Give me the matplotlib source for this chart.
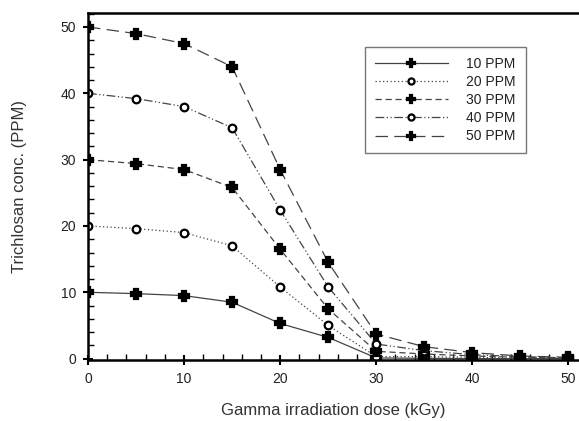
import matplotlib.pyplot as plt
from matplotlib.ticker import MultipleLocator

plt.rcParams["font.family"] = ["Liberation Sans", "DejaVu Sans"]

# ── Data ──────────────────────────────────
dose = [0, 5, 10, 15, 20, 25, 30, 35, 40, 45, 50]
ppm10 = [10, 9.8, 9.5, 8.5, 5.3, 3.2, 0.1, 0.05, 0.0, 0.0, 0.0]
ppm20 = [20, 19.6, 19.0, 17.0, 10.8, 5.0, 0.3, 0.3, 0.2, 0.1, 0.0]
ppm30 = [30, 29.4, 28.5, 25.8, 16.5, 7.5, 1.1, 0.7, 0.4, 0.2, 0.1]
ppm40 = [40, 39.2, 38.0, 34.8, 22.4, 10.8, 2.2, 1.2, 0.6, 0.3, 0.1]
ppm50 = [50, 49.0, 47.5, 44.0, 28.5, 14.5, 3.7, 1.8, 0.9, 0.4, 0.2]
labels = ["10 PPM", "20 PPM", "30 PPM", "40 PPM", "50 PPM"]

fig = plt.figure(figsize=(5.79, 4.21), dpi=100)
ax = fig.add_axes([0.152, 0.145, 0.848, 0.824])

# linestyle, marker, face colour
styles = [
    ("-", "P", "black"),
    ((0, (1, 2)), "o", "white"),
    ((0, (5, 3)), "P", "black"),
    ((0, (7, 2, 1, 2, 1, 2)), "o", "white"),
    ((0, (10, 5)), "P", "black"),
]
series = [ppm10, ppm20, ppm30, ppm40, ppm50]

for vals, lab, (ls, mk, fc) in zip(series, labels, styles):
    ms = 6.5 if mk == "P" else 5.5
    ax.plot(dose, vals, linestyle=ls, color="#444444", linewidth=0.9,
            marker=mk, markersize=ms, markerfacecolor=fc,
            markeredgecolor="black", markeredgewidth=1.6, label=lab)

ax.set_xlim(0, 51.1)
ax.set_ylim(-0.2, 52.1)
ax.xaxis.set_major_locator(MultipleLocator(10))
ax.xaxis.set_minor_locator(MultipleLocator(2))
ax.yaxis.set_major_locator(MultipleLocator(10))
ax.yaxis.set_minor_locator(MultipleLocator(2))
ax.tick_params(which="major", direction="inout", length=7, width=1.5,
               labelsize=10, labelcolor="#222222", pad=5)
ax.tick_params(which="minor", direction="in", length=4, width=1)

for side in ["left", "bottom", "top"]:
    ax.spines[side].set_linewidth(1.8)
ax.spines["right"].set_visible(False)

ax.set_xlabel("Gamma irradiation dose (kGy)", fontsize=12, color="#333333")
ax.set_ylabel("Trichlosan conc. (PPM)", fontsize=12, color="#333333")
ax.xaxis.set_label_coords(0.5, -0.124)
ax.yaxis.set_label_coords(-0.124, 0.5)

leg = ax.legend(loc="upper left", bbox_to_anchor=(0.564, 0.902), fontsize=10,
                frameon=True, fancybox=False, handlelength=5.3,
                handletextpad=1.3, labelspacing=0.3, borderpad=0.7,
                markerscale=0.8, borderaxespad=0)
leg.get_frame().set_edgecolor("#555555")
leg.get_frame().set_linewidth(1.0)
for t in leg.get_texts():
    t.set_color("#222222")

plt.savefig("out.png", dpi=100)
